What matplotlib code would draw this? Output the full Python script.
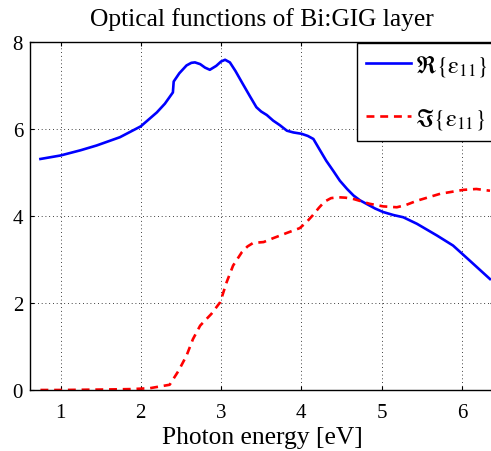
import matplotlib
matplotlib.use('Agg')
import matplotlib.pyplot as plt

# Real part of epsilon_11 (photon energy in eV)
re_energy = [0.75, 1.0, 1.25, 1.45, 1.74, 2.0, 2.2, 2.30, 2.40, 2.41, 2.48, 2.57,
             2.63, 2.675, 2.74, 2.80, 2.86, 2.94, 3.00, 3.05, 3.11, 3.18, 3.26,
             3.36, 3.44, 3.50, 3.57, 3.65, 3.73, 3.82, 3.90, 4.00, 4.08, 4.15,
             4.22, 4.31, 4.40, 4.48, 4.57, 4.65, 4.73, 4.81, 4.92, 5.02, 5.15,
             5.27, 5.44, 5.69, 5.89, 6.10, 6.35]
re_eps = [5.31, 5.39, 5.51, 5.62, 5.81, 6.06, 6.38, 6.58, 6.84, 7.09, 7.28, 7.46,
          7.52, 7.53, 7.49, 7.41, 7.36, 7.45, 7.55, 7.59, 7.53, 7.33, 7.07,
          6.75, 6.50, 6.40, 6.32, 6.19, 6.09, 5.96, 5.92, 5.89, 5.84, 5.77,
          5.55, 5.27, 5.03, 4.81, 4.62, 4.47, 4.36, 4.28, 4.17, 4.09, 4.02,
          3.97, 3.82, 3.55, 3.32, 2.97, 2.55]

# Imaginary part of epsilon_11
im_energy = [0.75, 1.0, 1.5, 1.87, 2.11, 2.36, 2.47, 2.57, 2.65, 2.74, 2.88, 2.99,
             3.07, 3.15, 3.26, 3.33, 3.40, 3.53, 3.65, 3.82, 3.98, 4.06, 4.14,
             4.22, 4.29, 4.37, 4.46, 4.55, 4.65, 4.85, 5.02, 5.19, 5.30, 5.44,
             5.73, 6.02, 6.18, 6.35]
im_eps = [0.0, 0.0, 0.01, 0.02, 0.04, 0.12, 0.44, 0.79, 1.17, 1.48, 1.75, 2.02,
          2.48, 2.86, 3.17, 3.30, 3.38, 3.40, 3.49, 3.61, 3.72, 3.85, 4.01,
          4.19, 4.33, 4.41, 4.43, 4.42, 4.39, 4.28, 4.22, 4.20, 4.25, 4.35,
          4.51, 4.60, 4.62, 4.58]

plt.rcParams['font.family'] = ['Liberation Serif', 'DejaVu Serif']
plt.rcParams['mathtext.fontset'] = 'stix'

fig = plt.figure(figsize=(4.91, 4.52), dpi=100)
ax = fig.add_axes([0.0611, 0.135, 0.945, 0.770])

ax.plot(re_energy, re_eps, color='#0000ff', lw=1.9, label=r'$\Re\{\mathrm{ε}_{11}\}$')
ax.plot(im_energy, im_eps, color='#ff0000', lw=1.9, ls=(0, (3, 2.2)),
        label=r'$\Im\{\mathrm{ε}_{11}\}$')

ax.set_xlim(0.62, 6.4)
ax.set_ylim(0, 8)
ax.set_xticks([1, 2, 3, 4, 5, 6])
ax.set_yticks([0, 2, 4, 6, 8])
ax.grid(True, color='black', ls=(0, (1, 3.5)), lw=0.6)
ax.tick_params(direction='in', top=True, right=True, labelsize=15, length=3)
ax.tick_params(axis='x', pad=9.5)
ax.tick_params(axis='y', pad=5)
for s in ax.spines.values():
    s.set_linewidth(1.0)

ax.set_title('Optical functions of Bi:GIG layer', fontsize=18.4, pad=12.5)
ax.set_xlabel('Photon energy [eV]', fontsize=18.4, labelpad=2.5)

# legend box runs slightly past the right edge of the axes
leg = ax.legend(loc='upper right', bbox_to_anchor=(1.011, 1.0), fontsize=17.5,
                fancybox=False, framealpha=1, edgecolor='black',
                handlelength=1.85, handletextpad=0.15,
                borderpad=0.4, labelspacing=1.15, borderaxespad=0.05)
leg.get_frame().set_linewidth(1.0)

fig.savefig('out.png', dpi=100)
